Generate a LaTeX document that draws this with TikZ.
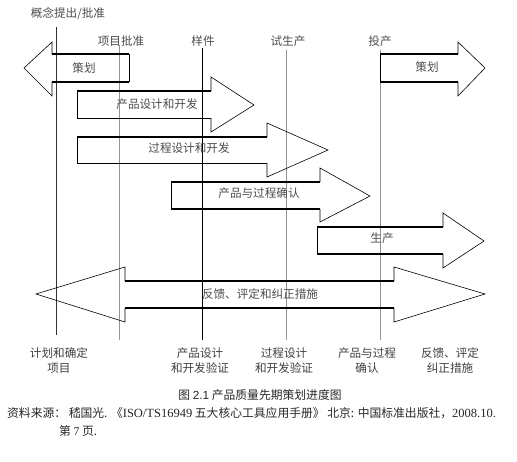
\documentclass[tikz,border=0pt]{standalone}
\usepackage{fontspec}
\setmainfont{Liberation Serif}
\newfontfamily\cjk{Noto Sans CJK SC}
\newfontfamily\lsans{Liberation Sans}
\begin{document}
\begin{tikzpicture}[x=1pt,y=-1pt,
  vline/.style={line width=1pt,draw=gray!85},
  vlinedark/.style={line width=0.9pt,draw=black!80},
  thin/.style={line width=0.6pt,draw=black},
  thick/.style={line width=1.8pt,draw=black},
  lbl/.style={font=\cjk\fontsize{11.6}{14}\selectfont,text=black!70,inner sep=0pt},
  blbl/.style={font=\cjk\fontsize{11.6}{15}\selectfont,text=black!75,inner sep=0pt,align=center},
  captxt/.style={font=\cjk\fontsize{11.8}{14}\selectfont,text=black!85,inner sep=0pt}]
\useasboundingbox (0,0) rectangle (517,461);
% vertical milestone lines
\draw[vlinedark] (56,27) -- (56,335);
\draw[vline] (119,45) -- (119,340);
\draw[line width=0.9pt,black] (202,48) -- (202,340);
\draw[vline] (286,50) -- (286,340);
\draw[vline] (380,50) -- (380,340);
% top labels
\node[lbl] (m0) at (68,14) {概念提出/批准};
\node[lbl] (m1) at (121,41) {项目批准};
\node[lbl] (m2) at (203,41) {样件};
\node[lbl] (m3) at (288,41) {试生产};
\node[lbl] (m4) at (380,41) {投产};
% left arrow 策划
\draw[thin] (129,54) -- (129,82);
\draw[thin] (52,82) -- (52,96) -- (24,68) -- (52,42) -- (52,54);
\draw[thick] (52,54) -- (129,54) (52,82) -- (129,82);
\node[lbl] (a1) at (84,68) {策划};
% 产品设计和开发
\draw[thin] (77,91) -- (77,118);
\draw[thin] (211,118) -- (211,132) -- (254,105) -- (211,77) -- (211,91);
\draw[thick] (77,91) -- (211,91);
\draw[thin] (77,118) -- (211,118);
\node[lbl] (a2) at (157,104) {产品设计和开发};
% 过程设计和开发
\draw[thin] (77,137) -- (77,163);
\draw[thin] (267,163) -- (267,177) -- (328,150) -- (267,123) -- (267,137);
\draw[thick] (77,137) -- (267,137);
\draw[thin] (77,163) -- (267,163);
\node[lbl] (a3) at (189,148) {过程设计和开发};
% 产品与过程确认
\draw[thin] (171,182) -- (171,209);
\draw[thin] (320,209) -- (320,222) -- (370,196) -- (320,168) -- (320,182);
\draw[thick] (171,182) -- (320,182) (171,209) -- (320,209);
\node[lbl] (a4) at (259,193) {产品与过程确认};
% 生产
\draw[thin] (317,227) -- (317,254);
\draw[thin] (443,254) -- (443,268) -- (484,241) -- (443,213) -- (443,227);
\draw[thick] (317,227) -- (443,227) (317,254) -- (443,254);
\node[lbl] (a5) at (382,238) {生产};
% right arrow 策划
\draw[thin] (380,54) -- (380,82);
\draw[thin] (458,82) -- (458,96) -- (485,68) -- (458,42) -- (458,54);
\draw[thick] (380,54) -- (458,54) (380,82) -- (458,82);
\node[lbl] (a6) at (427,67) {策划};
% double arrow
\draw[thin] (125,281) -- (125,267) -- (36,294) -- (125,322) -- (125,308);
\draw[thin] (394,281) -- (394,267) -- (485,294) -- (394,322) -- (394,308);
\draw[thick] (125,281) -- (394,281) (125,308) -- (394,308);
\node[lbl] (a7) at (260,294) {反馈、评定和纠正措施};
% bottom labels
\node[blbl] (b1) at (59,361) {计划和确定\\项目};
\node[blbl] (b2) at (200,361) {产品设计\\和开发验证};
\node[blbl] (b3) at (284,361) {过程设计\\和开发验证};
\node[blbl] (b4) at (367,361) {产品与过程\\确认};
\node[blbl] (b5) at (450,361) {反馈、评定\\纠正措施};
% caption
\node[captxt] (c1) at (260,395) {图 {\lsans 2.1} 产品质量先期策划进度图};
\node[captxt,anchor=west] (c2) at (7,413) {资料来源： 嵇国光. 《{\rmfamily\fontsize{12.5}{14}\selectfont ISO/TS16949} 五大核心工具应用手册》 北京: 中国标准出版社，{\rmfamily\fontsize{12.5}{14}\selectfont 2008.10.}};
\node[captxt,anchor=west] (c3) at (59,431) {第 {\rmfamily 7} 页.};
\end{tikzpicture}
\end{document}
